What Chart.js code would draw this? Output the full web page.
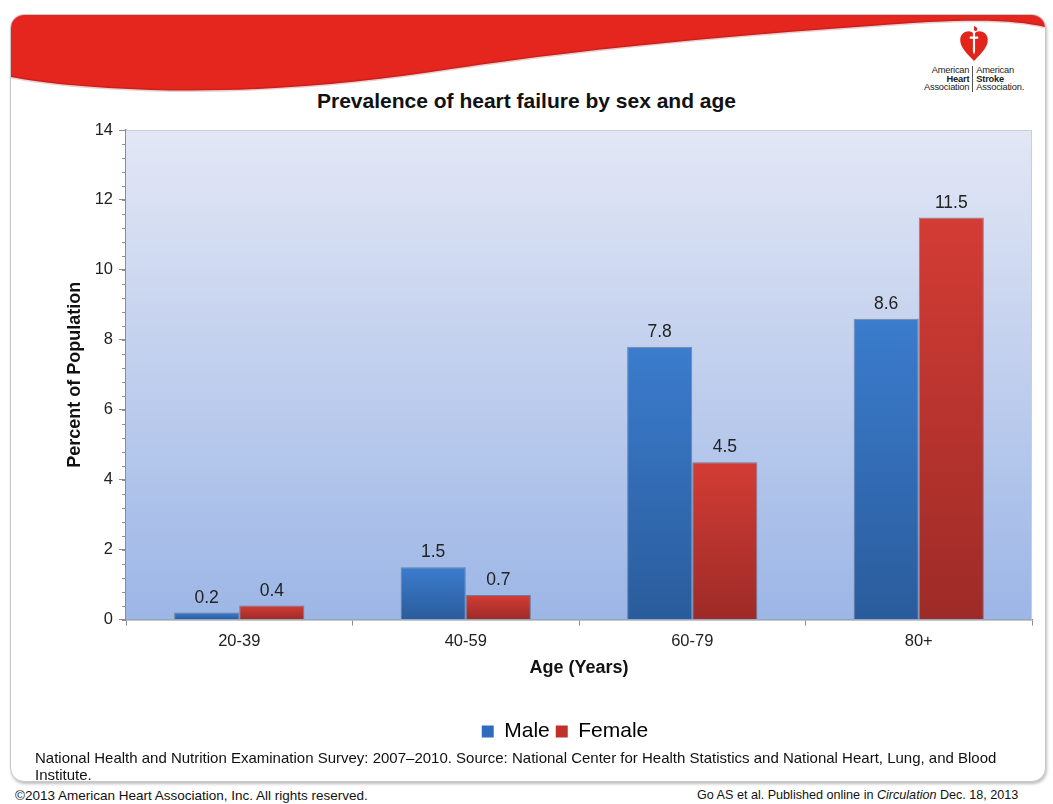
<!DOCTYPE html>
<html>
<head>
<meta charset="utf-8">
<script src="https://cdn.jsdelivr.net/npm/chart.js@4/dist/chart.umd.min.js"></script>
<style>
  html, body { margin: 0; padding: 0; background: #fff; overflow: hidden; }
  body { width: 1053px; height: 804px; position: relative; font-family: "Liberation Sans", Arial, sans-serif; }
  #frame {
    position: absolute; left: 10px; top: 14px; width: 1034px; height: 766px;
    border: 1px solid #c8c8c8; border-radius: 14px; box-shadow: 1px 2px 3px rgba(0,0,0,0.25);
    overflow: hidden; background: #fff;
  }
  #swoosh { position: absolute; left: 0; top: 0; }
  #logo { position: absolute; left: 908px; top: 26px; width: 132px; text-align: center; }
  #logo .txt { display: flex; justify-content: center; font-size: 9.3px; line-height: 8.6px; color: #222; margin-top: 0; letter-spacing: -0.2px; }
  #logo .txt div { padding: 0 3px; }
  #logo .l { text-align: right; border-right: 1px solid #555; }
  #logo .r { text-align: left; }
  #title { position: absolute; left: 0; width: 1053px; top: 89px; text-align: center; font-weight: bold; font-size: 21px; color: #111; }
  #wrap { position: absolute; left: 64px; top: 118px; width: 1003px; height: 634px; }
  #note { position: absolute; left: 35px; top: 749px; width: 990px; font-size: 15px; line-height: 17px; color: #111; }
  #copy { position: absolute; left: 15px; top: 788px; font-size: 13.5px; color: #111; }
  #cite { position: absolute; left: 697px; top: 788px; font-size: 12.6px; color: #111; }
</style>
</head>
<body>
<div id="frame">
  <svg id="swoosh" width="1034" height="110">
    <path d="M0,0 L1034,0 L1034,12 C1000,4 950,4 860,11 C700,22 560,36 440,54 C350,68 250,78 140,75 C80,73 30,68 0,62 Z" fill="#e4261f"/>
    <path d="M1034,12 C1000,4 950,4 860,11 C700,22 560,36 440,54 C350,68 250,78 140,75 C80,73 30,68 0,62" fill="none" stroke="rgba(110,0,0,0.18)" stroke-width="3"/>
  </svg>
</div>
<div id="logo">
  <svg width="32" height="36" viewBox="0 0 30 34">
    <path d="M15,33 C6,24 2,19 2,13 C2,8 6,5 10,5 C12,5 14,6 15,8 C16,6 18,5 20,5 C24,5 28,8 28,13 C28,19 24,24 15,33 Z" fill="#e1251b"/>
    <path d="M14,3 L16,3 L16,24 L15,27 L14,24 Z M11,10 L19,10 L19,12 L11,12 Z" fill="#fff"/>
    <path d="M15,0 C18,1 19,3 17,5 L15,4 Z" fill="#e1251b"/>
  </svg>
  <div class="txt">
    <div class="l">American<br><b>Heart</b><br>Association</div>
    <div class="r">American<br><b>Stroke</b><br>Association.</div>
  </div>
</div>
<div id="title">Prevalence of heart failure by sex and age</div>
<div id="wrap"><canvas id="chart"></canvas></div>
<div id="note">National Health and Nutrition Examination Survey: 2007–2010. Source: National Center for Health Statistics and National Heart, Lung, and Blood Institute.</div>
<div id="copy">©2013 American Heart Association, Inc. All rights reserved.</div>
<div id="cite">Go AS et al. Published online in <i>Circulation</i> Dec. 18, 2013</div>

<script>
/* ---------- 資料 ---------- */
const ageGroups = ["20-39", "40-59", "60-79", "80+"];
const maleValues = [0.2, 1.5, 7.8, 8.6];
const femaleValues = [0.4, 0.7, 4.5, 11.5];
const yTicks = [0, 2, 4, 6, 8, 10, 12, 14];

const FONT = "'Liberation Sans', Arial, sans-serif";

/* ---------- 每根柱子的漸層 ---------- */
function barGradient(top, bottom) {
    return ctx => {
        const chart = ctx.chart;
        if (!chart.chartArea || ctx.raw == null) return top;
        const y = chart.scales.y;
        const y0 = y.getPixelForValue(ctx.raw);
        const y1 = y.getPixelForValue(0);
        const g = chart.ctx.createLinearGradient(0, y0, 0, Math.max(y1, y0 + 1));
        g.addColorStop(0, top);
        g.addColorStop(1, bottom);
        return g;
    };
}

/* ---------- 繪圖區背景 + 次刻度 ---------- */
const plotBackground = {
    id: "plotBackground",
    beforeDatasetsDraw(chart) {
        const { ctx, chartArea: a } = chart;
        const g = ctx.createLinearGradient(0, a.top, 0, a.bottom);
        g.addColorStop(0, "#e3e7f5");
        g.addColorStop(1, "#9cb6e6");
        ctx.save();
        ctx.fillStyle = g;
        ctx.fillRect(a.left, a.top, a.right - a.left, a.bottom - a.top);
        ctx.strokeStyle = "#c9ced8";
        ctx.lineWidth = 1;
        ctx.beginPath();
        ctx.moveTo(a.left, a.top + 0.5);
        ctx.lineTo(a.right - 0.5, a.top + 0.5);
        ctx.lineTo(a.right - 0.5, a.bottom);
        ctx.stroke();
        // 次刻度：每 0.4 一格
        const y = chart.scales.y;
        ctx.strokeStyle = "#8d8d8d";
        ctx.beginPath();
        for (let v = 0; v <= 14.001; v += 0.4) {
            const p = Math.round(y.getPixelForValue(v)) + 0.5;
            ctx.moveTo(a.left - 4, p);
            ctx.lineTo(a.left, p);
        }
        ctx.stroke();
        ctx.restore();
    }
};

/* ---------- 圖例往右挪一點 ---------- */
const legendShift = {
    id: "legendShift",
    afterLayout(chart) {
        if (!chart.legend) return;
        chart.legend.left += 17;
        chart.legend.right += 17;
    }
};

/* ---------- 數值標籤 ---------- */
const valueLabels = {
    id: "valueLabels",
    afterDatasetsDraw(chart) {
        const { ctx } = chart;
        ctx.save();
        ctx.font = "17.5px " + FONT;
        ctx.fillStyle = "#222";
        ctx.textAlign = "center";
        ctx.textBaseline = "bottom";
        chart.data.datasets.forEach((ds, i) => {
            chart.getDatasetMeta(i).data.forEach((bar, j) => {
                ctx.fillText(ds.data[j].toFixed(1), bar.x, bar.y - 6);
            });
        });
        ctx.restore();
    }
};

new Chart(document.getElementById("chart"), {
    type: "bar",
    data: {
        labels: ageGroups,
        datasets: [
            {
                label: "Male",
                data: maleValues,
                backgroundColor: barGradient("#3b7ccd", "#2a5c9c"),
                borderColor: "rgba(95,105,125,0.75)",
                borderWidth: 1
            },
            {
                label: "Female",
                data: femaleValues,
                backgroundColor: barGradient("#d33c35", "#9d2b27"),
                borderColor: "rgba(95,105,125,0.75)",
                borderWidth: 1
            }
        ]
    },
    options: {
        responsive: true,
        maintainAspectRatio: false,
        animation: false,
        layout: { padding: { top: 12, right: 35, bottom: 0, left: 0 } },
        datasets: {
            bar: { categoryPercentage: 0.575, barPercentage: 1.0 }
        },
        scales: {
            x: {
                grid: {
                    display: true,
                    drawOnChartArea: false,
                    drawTicks: true,
                    tickLength: 6,
                    offset: true,
                    color: "#8d8d8d"
                },
                border: { color: "#8d8d8d", width: 1.5 },
                ticks: {
                    color: "#222",
                    font: { size: 16.5, family: FONT },
                    padding: 6
                },
                title: {
                    display: true,
                    text: "Age (Years)",
                    color: "#111",
                    font: { size: 18, weight: "bold", family: FONT },
                    padding: { top: 0, bottom: 36 }
                }
            },
            y: {
                min: 0,
                max: 14,
                afterBuildTicks: axis => { axis.ticks = yTicks.map(v => ({ value: v })); },
                afterFit: axis => { axis.width = 62; axis.paddingTop = 0; },
                grid: {
                    display: true,
                    drawOnChartArea: false,
                    tickLength: 7,
                    color: "#8d8d8d"
                },
                border: { color: "#8d8d8d", width: 1.5 },
                ticks: {
                    color: "#222",
                    font: { size: 16.5, family: FONT },
                    padding: 6
                },
                title: {
                    display: true,
                    text: "Percent of Population",
                    color: "#111",
                    font: { size: 18, weight: "bold", family: FONT },
                    padding: { top: 0, bottom: 0 }
                }
            }
        },
        plugins: {
            legend: {
                position: "bottom",
                labels: {
                    color: "#111",
                    font: { size: 21, family: FONT },
                    boxWidth: 12,
                    boxHeight: 12,
                    padding: 6,
                    generateLabels: chart => chart.data.datasets.map((ds, i) => ({
                        text: ds.label,
                        fillStyle: i === 0 ? "#2f6bbf" : "#c1312c",
                        strokeStyle: "rgba(0,0,0,0)",
                        lineWidth: 0,
                        datasetIndex: i
                    }))
                }
            },
            tooltip: { enabled: false }
        }
    },
    plugins: [plotBackground, legendShift, valueLabels]
});
</script>
</body>
</html>
